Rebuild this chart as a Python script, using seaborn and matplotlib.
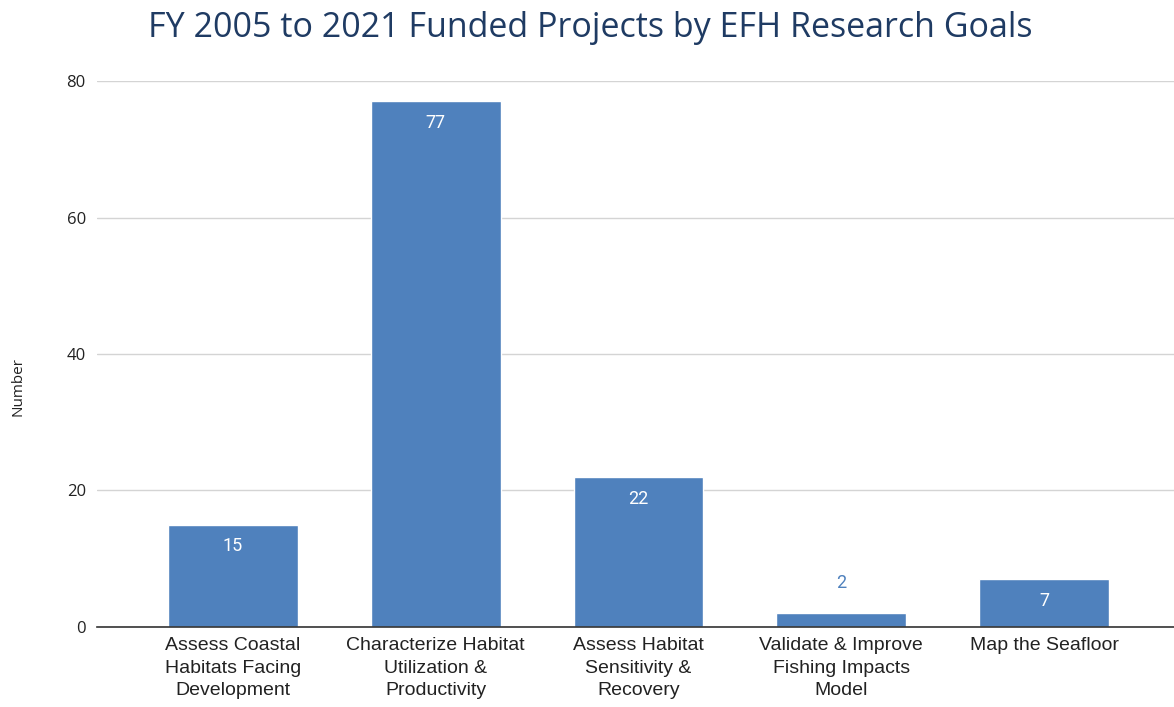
import matplotlib
matplotlib.use("Agg")
import matplotlib.pyplot as plt
import seaborn as sns
import pandas as pd

# data
goals = ["Assess Coastal\nHabitats Facing\nDevelopment",
         "Characterize Habitat\nUtilization &\nProductivity",
         "Assess Habitat\nSensitivity &\nRecovery",
         "Validate & Improve\nFishing Impacts\nModel",
         "Map the Seafloor"]
counts = [15, 77, 22, 2, 7]
yticks = [0, 20, 40, 60, 80]

bar_color = "#4f81bd"
title_color = "#1f3b63"

sns.set_style("white")
plt.rcParams['font.family'] = ['Liberation Sans', 'DejaVu Sans']

df = pd.DataFrame({"goal": goals, "count": counts})

fig = plt.figure(figsize=(11.74, 7.07), dpi=100)
ax = fig.add_axes([0.0826, 0.1132, 0.9174, 0.7722])

sns.barplot(data=df, x="goal", y="count", color=bar_color, saturation=1,
            width=0.64, ax=ax, zorder=3)

ax.set_ylim(0, 80)
ax.set_xlim(-0.67, 4.64)
ax.set_yticks(yticks)
ax.yaxis.grid(True, color="#d4d4d4", linewidth=1, zorder=0)
ax.set_axisbelow(True)
for s in ["top", "right", "left"]:
    ax.spines[s].set_visible(False)
ax.spines["bottom"].set_color("#333333")
ax.spines["bottom"].set_linewidth(1.2)
ax.spines["bottom"].set_zorder(4)
ax.tick_params(axis="both", length=0, colors="#222222")
ax.tick_params(axis="x", labelsize=14, pad=7)
ax.tick_params(axis="y", labelsize=12, pad=8)
for t in ax.get_xticklabels():
    t.set_linespacing(1.45)
for t in ax.get_yticklabels():
    t.set_family(["Open Sans", "DejaVu Sans"])
ax.set_xlabel("")
ax.set_ylabel("Number", fontsize=11, color="#222222",
              family=["Open Sans", "DejaVu Sans"])
ax.yaxis.set_label_coords(-0.066, 0.44)

# value labels: inside the bar near the top, or above it when the bar is short
for i, v in enumerate(counts):
    if v >= 5:
        ax.text(i, v - 3.2, str(v), ha="center", va="center", color="white",
                fontsize=13, family=["Roboto", "DejaVu Sans"], zorder=5)
    else:
        ax.text(i, v + 4.5, str(v), ha="center", va="center", color=bar_color,
                fontsize=13, family=["Roboto", "DejaVu Sans"], zorder=5)

fig.suptitle("FY 2005 to 2021 Funded Projects by EFH Research Goals",
             x=0.503, y=0.985, fontsize=24.5, color=title_color,
             family=["Open Sans", "DejaVu Sans"])

fig.savefig("out.png", dpi=100)
